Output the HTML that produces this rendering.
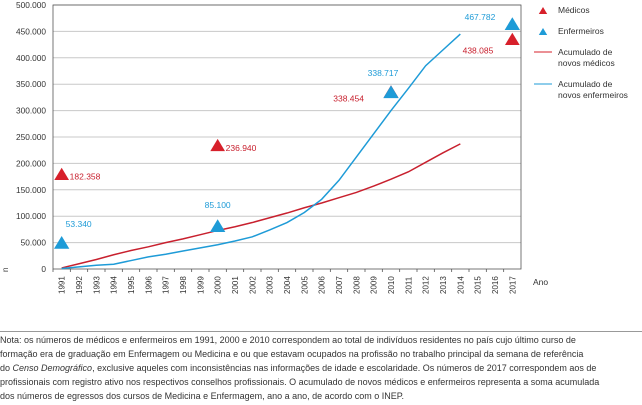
<!DOCTYPE html>
<html><head><meta charset="utf-8"><style>
body{margin:0;background:#fff;width:642px;height:405px;overflow:hidden;font-family:"Liberation Sans",sans-serif}
#note{position:absolute;left:0;top:334px;width:642px;font-size:9px;line-height:13.9px;color:#333}
</style></head><body>
<svg id="chart" width="642" height="330" style="position:absolute;left:0;top:0" font-family="Liberation Sans, sans-serif"></svg>
<div style="position:absolute;left:0;top:331px;width:642px;height:1px;background:#999"></div>
<div id="note">Nota: os números de médicos e enfermeiros em 1991, 2000 e 2010 correspondem ao total de indivíduos residentes no país cujo último curso de<br>formação era de graduação em Enfermagem ou Medicina e ou que estavam ocupados na profissão no trabalho principal da semana de referência<br>do <i>Censo Demográfico</i>, exclusive aqueles com inconsistências nas informações de idade e escolaridade. Os números de 2017 correspondem aos de<br>profissionais com registro ativo nos respectivos conselhos profissionais. O acumulado de novos médicos e enfermeiros representa a soma acumulada<br>dos números de egressos dos cursos de Medicina e Enfermagem, ano a ano, de acordo com o INEP.</div>
<script>
const years=[1991,1992,1993,1994,1995,1996,1997,1998,1999,2000,2001,2002,2003,2004,2005,2006,2007,2008,2009,2010,2011,2012,2013,2014,2015,2016,2017];
const yTicks=[0,50000,100000,150000,200000,250000,300000,350000,400000,450000,500000];
const lineYears=years.slice(0,24);
const medAcum=[2000,10000,18000,27000,35000,42000,50000,57000,65000,73000,80000,88000,97000,106000,116000,125000,135000,145000,157000,170000,184000,202000,220000,237000];
const enfAcum=[1000,4000,7000,9000,16000,23000,28000,34000,40000,46000,53000,61000,74000,88000,107000,132000,168000,212000,256000,300000,342000,385000,415000,445000];
const medYears=[1991,2000,2010,2017];
const medVals=[182358,236940,338454,438085];
const medLabels=["182.358","236.940","338.454","438.085"];
const enfYears=[1991,2000,2010,2017];
const enfVals=[53340,85100,338717,467782];
const enfLabels=["53.340","85.100","338.717","467.782"];
const RED="#d7202b",BLUE="#1e9bd7";
const L=53,R=521,T=5,B=269,bw=(R-L)/years.length;
const x=y=>L+(years.indexOf(y)+0.5)*bw;
const yv=v=>B-v/500000*(B-T);
const svg=document.getElementById('chart');
function el(t,a,txt){const e=document.createElementNS('http://www.w3.org/2000/svg',t);for(const k in a)e.setAttribute(k,a[k]);if(txt!=null)e.textContent=txt;svg.appendChild(e);return e;}
yTicks.forEach(v=>{
 if(v>0){const g=el('line',{x1:L,x2:R,y1:yv(v),y2:yv(v),stroke:'#c8c8c8','stroke-width':1});
 }
 const t=el('text',{x:46,y:yv(v)+3,'text-anchor':'end','font-size':8.3,fill:'#333'},v===0?'0':v.toLocaleString('de-DE'));
 
});
const fr=el('rect',{x:L,y:T,width:R-L,height:B-T,fill:'none',stroke:'#555','stroke-width':0.8});

years.forEach((yr,i)=>{
 const tk=el('line',{x1:L+i*bw,x2:L+i*bw,y1:B,y2:B+3,stroke:'#555','stroke-width':0.8});
 
 const t=el('text',{transform:`translate(${x(yr)+3},${B+25}) rotate(-90)`,'font-size':8,fill:'#333'},yr);
 
});
const ml=el('polyline',{points:lineYears.map((yr,i)=>x(yr)+','+yv(medAcum[i])).join(' '),fill:'none',stroke:'#c8202e','stroke-width':1.5});

const bl=el('polyline',{points:lineYears.map((yr,i)=>x(yr)+','+yv(enfAcum[i])).join(' '),fill:'none',stroke:BLUE,'stroke-width':1.5});

function tri(cx,cy,c,s){return el('polygon',{points:`${cx},${cy-s} ${cx-s*1.05},${cy+s*0.75} ${cx+s*1.05},${cy+s*0.75}`,fill:c});}
const medOff=[[8,3,'start'],[8,3,'start'],[-27,7,'end'],[-19,12,'end']];
const enfOff=[[4,-14,'start'],[0,-16,'middle'],[-8,-14,'middle'],[-17,-2,'end']];
medYears.forEach((yr,i)=>{
 const p=tri(x(yr),yv(medVals[i])+2,RED,7);
 
 const o=medOff[i];
 const t=el('text',{x:x(yr)+o[0],y:yv(medVals[i])+o[1]+4,'text-anchor':o[2],'font-size':8.5,fill:'#c8202e'},medLabels[i]);
 
});
enfYears.forEach((yr,i)=>{
 const p=tri(x(yr),yv(enfVals[i])+2.5,BLUE,7.3);
 
 const o=enfOff[i];
 const t=el('text',{x:x(yr)+o[0],y:yv(enfVals[i])+o[1],'text-anchor':o[2],'font-size':8.5,fill:BLUE},enfLabels[i]);
 
});
// legend
let g;
g=tri(543,11,RED,4);
g=el('text',{x:558,y:13,'font-size':8.5,fill:'#333'},'Médicos');
g=tri(543,32,BLUE,4);
g=el('text',{x:558,y:34,'font-size':8.5,fill:'#333'},'Enfermeiros');
g=el('line',{x1:534,x2:552,y1:52,y2:52,stroke:RED,'stroke-width':1});
g=el('text',{x:558,y:55,'font-size':8.5,fill:'#333'},'Acumulado de');
g=el('text',{x:558,y:66,'font-size':8.5,fill:'#333'},'novos médicos');
g=el('line',{x1:534,x2:552,y1:84,y2:84,stroke:BLUE,'stroke-width':1});
g=el('text',{x:558,y:87,'font-size':8.5,fill:'#333'},'Acumulado de');
g=el('text',{x:558,y:98,'font-size':8.5,fill:'#333'},'novos enfermeiros');
g=el('text',{x:533,y:285,'font-size':8.5,fill:'#333'},'Ano');
g=el('text',{transform:'translate(8,272) rotate(-90)','font-size':8,fill:'#333'},'n');
</script>
</body></html>
